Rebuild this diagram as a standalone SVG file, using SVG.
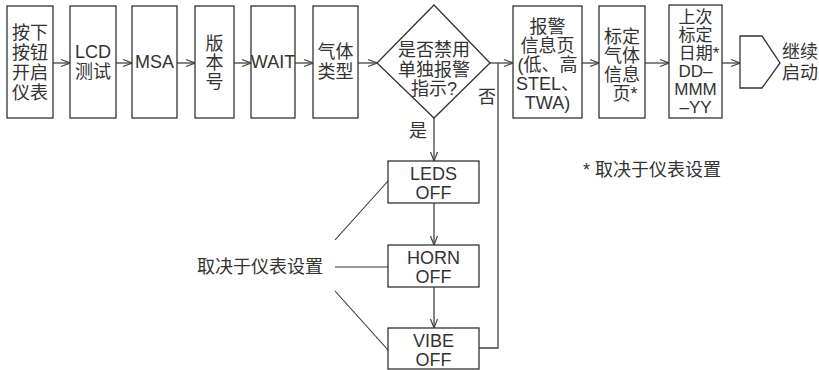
<svg xmlns="http://www.w3.org/2000/svg" width="819" height="370" viewBox="0 0 819 370">
<defs>
<marker id="arr" viewBox="0 0 10 10" refX="10" refY="5" markerWidth="10" markerHeight="10" markerUnits="userSpaceOnUse" orient="auto">
<path d="M1,1.5 L10,5 L1,8.5" fill="none" stroke="#444" stroke-width="1.2"/>
</marker>
</defs>
<style>
.b{fill:#fff;stroke:#333;stroke-width:1.3}
.t{font-family:"Liberation Sans","Noto Sans CJK SC",sans-serif;font-size:18px;fill:#333;text-anchor:middle;dominant-baseline:central}
.s{font-size:17px}
.c{fill:none;stroke:#444;stroke-width:1.3}
.l{fill:none;stroke:#333;stroke-width:1.1}
</style>
<rect width="819" height="370" fill="#fff"/>
<g id="connectors">
<line class="c" x1="53" y1="63" x2="70" y2="63" marker-end="url(#arr)"/>
<line class="c" x1="116" y1="63" x2="132" y2="63" marker-end="url(#arr)"/>
<line class="c" x1="177" y1="63" x2="195" y2="63" marker-end="url(#arr)"/>
<line class="c" x1="234" y1="63" x2="251" y2="63" marker-end="url(#arr)"/>
<line class="c" x1="295" y1="63" x2="313" y2="63" marker-end="url(#arr)"/>
<line class="c" x1="358" y1="63" x2="377" y2="63" marker-end="url(#arr)"/>
<line class="c" x1="490" y1="63" x2="513" y2="63" marker-end="url(#arr)"/>
<line class="c" x1="582" y1="63" x2="599" y2="63" marker-end="url(#arr)"/>
<line class="c" x1="645" y1="63" x2="669" y2="63" marker-end="url(#arr)"/>
<line class="c" x1="722" y1="63" x2="740" y2="63" marker-end="url(#arr)"/>
<polyline class="c" points="498,63 498,348 479,348"/>
<line class="c" x1="434" y1="118" x2="434" y2="161" marker-end="url(#arr)"/>
<line class="c" x1="434" y1="203" x2="434" y2="245" marker-end="url(#arr)"/>
<line class="c" x1="434" y1="287" x2="434" y2="328" marker-end="url(#arr)"/>
<line class="l" x1="335" y1="240" x2="388" y2="181"/>
<line class="l" x1="335" y1="267" x2="388" y2="267"/>
<line class="l" x1="335" y1="291" x2="388" y2="350"/>
<text class="t" x="418" y="131">是</text>
<text class="t" x="487" y="97">否</text>
</g>
<g id="n1"><rect class="b" x="7" y="6" width="46" height="112"/>
<text class="t" x="30" y="33">按下</text><text class="t" x="30" y="53">按钮</text><text class="t" x="30" y="73">开启</text><text class="t" x="30" y="93">仪表</text></g>
<g id="n2"><rect class="b" x="70" y="6" width="46" height="112"/>
<text class="t" x="93" y="52">LCD</text><text class="t" x="93" y="72">测试</text></g>
<g id="n3"><rect class="b" x="132" y="6" width="45" height="112"/>
<text class="t" x="154.5" y="62">MSA</text></g>
<g id="n4"><rect class="b" x="195" y="6" width="39" height="112"/>
<text class="t" x="214.5" y="44">版</text><text class="t" x="214.5" y="63">本</text><text class="t" x="214.5" y="82">号</text></g>
<g id="n5"><rect class="b" x="251" y="6" width="44" height="112"/>
<text class="t" x="273" y="62">WAIT</text></g>
<g id="n6"><rect class="b" x="313" y="6" width="45" height="112"/>
<text class="t" x="335.5" y="52">气体</text><text class="t" x="335.5" y="72">类型</text></g>
<g id="n7"><polygon class="b" points="434,5 490,63 434,118 377,63"/>
<text class="t" x="434" y="50">是否禁用</text><text class="t" x="434" y="70">单独报警</text><text class="t" x="434" y="89">指示?</text></g>
<g id="n8"><rect class="b" x="513" y="6" width="69" height="112"/>
<text class="t" x="547.5" y="27">报警</text><text class="t" x="547.5" y="46">信息页</text><text class="t" x="547.5" y="65">(低、高</text><text class="t" x="547.5" y="84">STEL、</text><text class="t" x="547.5" y="103">TWA)</text></g>
<g id="n9"><rect class="b" x="599" y="6" width="46" height="112"/>
<text class="t" x="622" y="37">标定</text><text class="t" x="622" y="56">气体</text><text class="t" x="622" y="75">信息</text><text class="t" x="625" y="94">页*</text></g>
<g id="n10"><rect class="b" x="669" y="5" width="53" height="113"/>
<text class="t s" x="695.5" y="17">上次</text><text class="t s" x="695.5" y="35">标定</text><text class="t s" x="699" y="53">日期*</text><text class="t s" x="695.5" y="71">DD–</text><text class="t s" x="695.5" y="89">MMM</text><text class="t s" x="695.5" y="107">–YY</text></g>
<g id="n11"><polygon class="b" points="740,36 762,36 780,63 762,88 740,88"/>
<text class="t" x="800" y="52">继续</text><text class="t" x="800" y="73">启动</text></g>
<g id="n12"><rect class="b" x="388" y="161" width="91" height="42"/>
<text class="t" x="433.5" y="174">LEDS</text><text class="t" x="433.5" y="193">OFF</text></g>
<g id="n13"><rect class="b" x="388" y="245" width="91" height="42"/>
<text class="t" x="433.5" y="258">HORN</text><text class="t" x="433.5" y="277">OFF</text></g>
<g id="n14"><rect class="b" x="388" y="328" width="91" height="41"/>
<text class="t" x="433.5" y="341">VIBE</text><text class="t" x="433.5" y="360">OFF</text></g>
<g id="n15"><text class="t" x="260" y="267">取决于仪表设置</text></g>
<g id="n16"><text class="t" x="652" y="170">* 取决于仪表设置</text></g>
</svg>
